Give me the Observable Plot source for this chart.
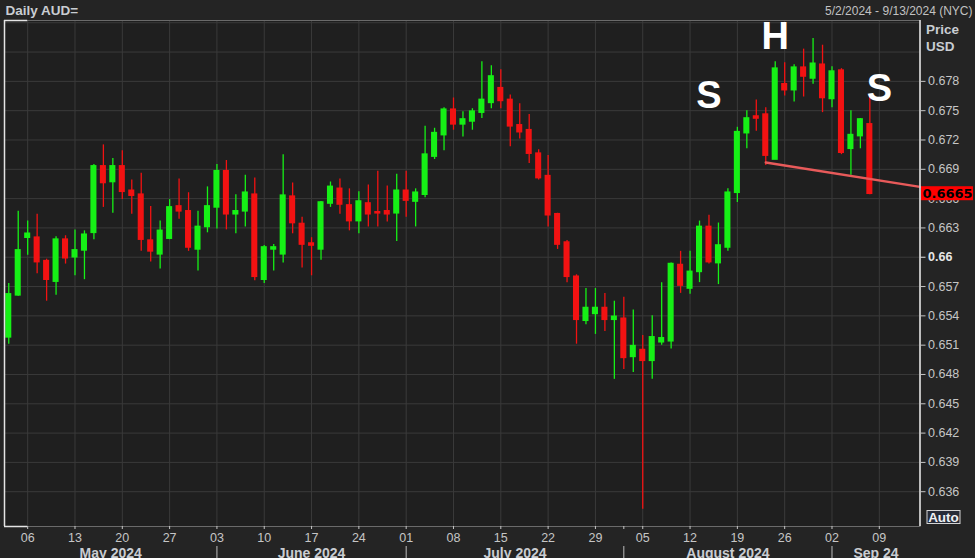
<!DOCTYPE html>
<html>
<head>
<meta charset="utf-8">
<script src="https://cdn.jsdelivr.net/npm/d3@7"></script>
<script src="https://cdn.jsdelivr.net/npm/@observablehq/plot@0.6"></script>
<style>
html, body { margin: 0; padding: 0; background: #242424; }
#chart svg { display: block; }
</style>
</head>
<body>
<div id="chart"></div>
<script>
// ---- Data (AUD/USD daily candles) ----
const dates = [
  "05-02","05-03","05-06","05-07","05-08","05-09","05-10","05-13","05-14","05-15","05-16","05-17",
  "05-20","05-21","05-22","05-23","05-24","05-27","05-28","05-29","05-30","05-31",
  "06-03","06-04","06-05","06-06","06-07","06-10","06-11","06-12","06-13","06-14",
  "06-17","06-18","06-19","06-20","06-21","06-24","06-25","06-26","06-27","06-28",
  "07-01","07-02","07-03","07-04","07-05","07-08","07-09","07-10","07-11","07-12",
  "07-15","07-16","07-17","07-18","07-19","07-22","07-23","07-24","07-25","07-26",
  "07-29","07-30","07-31","08-01","08-02","08-05","08-06","08-07","08-08","08-09",
  "08-12","08-13","08-14","08-15","08-16","08-19","08-20","08-21","08-22","08-23",
  "08-26","08-27","08-28","08-29","08-30","09-02","09-03","09-04","09-05","09-06"
];
const open = [
  0.6518,0.6561,0.6620,0.6620,0.6596,0.6575,0.6618,0.6600,0.6607,0.6625,0.6693,0.6677,
  0.6693,0.6668,0.6664,0.6617,0.6603,0.6619,0.6652,0.6647,0.6608,0.6631,
  0.6651,0.6688,0.6644,0.6647,0.6664,0.6577,0.6608,0.6603,0.6662,0.6634,
  0.6614,0.6608,0.6655,0.6670,0.6653,0.6637,0.6655,0.6646,0.6647,0.6645,
  0.6668,0.6657,0.6664,0.6703,0.6725,0.6751,0.6736,0.6739,0.6748,0.6758,
  0.6773,0.6761,0.6735,0.6730,0.6706,0.6683,0.6644,0.6615,0.6580,0.6535,
  0.6542,0.6548,0.6536,0.6537,0.6498,0.6505,0.6494,0.6513,0.6514,0.6592,
  0.6568,0.6585,0.6631,0.6594,0.6610,0.6666,0.6727,0.6744,0.6746,0.6700,
  0.6777,0.6771,0.6794,0.6783,0.6797,0.6762,0.6791,0.6711,0.6724,0.6736
];
const high = [
  0.6573,0.6647,0.6637,0.6644,0.6598,0.6621,0.6622,0.6628,0.6627,0.6695,0.6715,0.6701,
  0.6709,0.6679,0.6686,0.6652,0.6637,0.6659,0.6680,0.6666,0.6647,0.6672,
  0.6695,0.6699,0.6664,0.6684,0.6681,0.6612,0.6613,0.6705,0.6676,0.6641,
  0.6620,0.6657,0.6677,0.6680,0.6670,0.6667,0.6674,0.6688,0.6673,0.6685,
  0.6688,0.6670,0.6734,0.6732,0.6753,0.6763,0.6749,0.6752,0.6800,0.6796,
  0.6792,0.6766,0.6757,0.6746,0.6710,0.6704,0.6645,0.6617,0.6582,0.6568,
  0.6568,0.6563,0.6555,0.6559,0.6546,0.6520,0.6540,0.6574,0.6594,0.6606,
  0.6606,0.6637,0.6643,0.6635,0.6670,0.6733,0.6750,0.6761,0.6753,0.6800,
  0.6799,0.6797,0.6813,0.6824,0.6817,0.6795,0.6793,0.6750,0.6742,0.6766
];
const low = [
  0.6511,0.6560,0.6602,0.6583,0.6555,0.6561,0.6593,0.6581,0.6577,0.6618,0.6651,0.6645,
  0.6659,0.6644,0.6606,0.6595,0.6588,0.6618,0.6639,0.6606,0.6586,0.6625,
  0.6629,0.6628,0.6624,0.6631,0.6576,0.6573,0.6586,0.6594,0.6624,0.6589,
  0.6581,0.6597,0.6651,0.6644,0.6627,0.6624,0.6631,0.6631,0.6636,0.6616,
  0.6641,0.6631,0.6661,0.6700,0.6709,0.6730,0.6723,0.6730,0.6742,0.6752,
  0.6752,0.6713,0.6721,0.6696,0.6679,0.6631,0.6608,0.6574,0.6511,0.6531,
  0.6521,0.6524,0.6475,0.6485,0.6482,0.6342,0.6475,0.6510,0.6506,0.6563,
  0.6562,0.6574,0.6593,0.6572,0.6606,0.6656,0.6711,0.6729,0.6694,0.6700,
  0.6765,0.6759,0.6764,0.6777,0.6748,0.6753,0.6705,0.6684,0.6711,0.6664
];
const close = [
  0.6562,0.6607,0.6624,0.6595,0.6577,0.6618,0.6599,0.6607,0.6623,0.6693,0.6676,0.6693,
  0.6667,0.6663,0.6618,0.6606,0.6627,0.6651,0.6647,0.6610,0.6631,0.6652,
  0.6688,0.6644,0.6647,0.6666,0.6580,0.6610,0.6610,0.6663,0.6635,0.6613,
  0.6612,0.6656,0.6672,0.6654,0.6637,0.6657,0.6644,0.6645,0.6644,0.6668,
  0.6658,0.6666,0.6705,0.6727,0.6751,0.6736,0.6741,0.6749,0.6761,0.6785,
  0.6760,0.6734,0.6728,0.6706,0.6681,0.6643,0.6613,0.6580,0.6536,0.6548,
  0.6548,0.6536,0.6539,0.6497,0.6509,0.6494,0.6518,0.6517,0.6593,0.6571,
  0.6585,0.6631,0.6595,0.6612,0.6666,0.6728,0.6742,0.6742,0.6704,0.6793,
  0.6771,0.6794,0.6785,0.6798,0.6763,0.6790,0.6707,0.6725,0.6741,0.6665
];
// empty trading days at the right end of the axis (to 9/13)
const extraDates = ["09-09","09-10","09-11","09-12","09-13"];
const mondayTicks = ["05-06","05-13","05-20","05-27","06-03","06-10","06-17","06-24","07-01","07-08",
  "07-15","07-22","07-29","08-05","08-12","08-19","08-26","09-02","09-09"];
const monthLabels = ["May 2024","June 2024","July 2024","August 2024","Sep 24"];
const monthStarts = ["05-02","06-03","07-01","08-01","09-02"];
const yTicks = [0.636,0.639,0.642,0.645,0.648,0.651,0.654,0.657,0.66,0.663,0.666,0.669,0.672,0.675,0.678,0.681,0.684];
const yLabelTicks = [0.636,0.639,0.642,0.645,0.648,0.651,0.654,0.657,0.663,0.666,0.669,0.672,0.675,0.678];
const yBoldTicks = [0.66];
const annLabels = ["S","H","S"];
const annDates = ["08-14","08-23","09-09"];
const annPrices = [0.6753,0.6813,0.6760];
const necklinePrices = [0.6697, 0.6672]; // from the 08-22 low to the right edge
const necklineStart = "08-22";

// ---- Derived tables ----
const allDates = dates.concat(extraDates);
const idx = new Map(allDates.map((d, i) => [d, i]));
const xDomain = [-0.45, allDates.length - 0.7];
const yDomain = [0.63244, 0.68423];
const candles = dates.map((d, i) => ({i, o: open[i], h: high[i], l: low[i], c: close[i]}));
const GREEN = "#16f016", RED = "#f21212";
const col = d => d.c >= d.o ? GREEN : RED;
const mondayIdx = mondayTicks.map(d => idx.get(d));
const startIdx = monthStarts.map(d => idx.get(d));
const monthMid = startIdx.map((s, k) => {
  const a = k === 0 ? xDomain[0] : s;
  const b = k === startIdx.length - 1 ? xDomain[1] : startIdx[k + 1];
  return (a + b) / 2;
});
const monthLabelOf = new Map(monthMid.map((m, k) => [m, monthLabels[k]]));
const extraMonthTicks = startIdx.slice(1).filter(i => !mondayIdx.includes(i));
const neckline = [
  {x: idx.get(necklineStart), y: necklinePrices[0]},
  {x: xDomain[1], y: necklinePrices[1]}
];
const annotations = annLabels.map((t, k) => ({t, x: idx.get(annDates[k]), y: annPrices[k]}));
const fmt = d3.format(".3~f");
const FONT = "Liberation Sans, Arial, sans-serif";
const AX = "#c6c6c6";

const chart = Plot.plot({
  width: 975,
  height: 558,
  marginLeft: 4,
  marginRight: 55.5,
  marginTop: 20,
  marginBottom: 32,
  style: {background: "#242424", color: AX, fontFamily: FONT},
  x: {type: "linear", domain: xDomain, label: null},
  y: {type: "linear", domain: yDomain, label: null},
  color: {type: "identity"},
  marks: [
    Plot.frame({fill: "#1f1f1f", stroke: "none"}),
    Plot.gridY(yTicks, {stroke: "#3a3a3a", strokeOpacity: 1}),
    Plot.gridX(mondayIdx, {stroke: "#3a3a3a", strokeOpacity: 1}),
    // wicks
    Plot.ruleX(candles, {x: "i", y1: "l", y2: "h", stroke: col, strokeWidth: 1.3}),
    // bodies
    Plot.rect(candles, {
      x1: d => d.i - 0.32, x2: d => d.i + 0.32,
      y1: d => Math.min(d.o, d.c), y2: d => Math.max(d.o, d.c),
      fill: col, insetTop: -0.8, insetBottom: -0.8
    }),
    // neckline
    Plot.line(neckline, {x: "x", y: "y", stroke: "#e85a5a", strokeWidth: 2.5}),
    // S H S annotations
    Plot.text(annotations, {x: "x", y: "y", text: "t", fill: "#ffffff", fontSize: 38, fontWeight: "bold",
      lineAnchor: "bottom", textAnchor: "middle", fontFamily: FONT}),
    // frame
    Plot.frame({stroke: "#6a6a6a"}),
    Plot.ruleX(xDomain, {stroke: "#e4e4e4", strokeWidth: 1.5}),
    Plot.ruleY(yDomain, {x1: xDomain[0], x2: mondayIdx[0], stroke: "#e4e4e4", strokeWidth: 1.5}),
    // y axis
    Plot.axisY(yLabelTicks, {anchor: "right", tickSize: 5, tickPadding: 3, tickFormat: fmt, fontSize: 12.5,
      color: AX, label: null}),
    Plot.axisY(yBoldTicks, {anchor: "right", tickSize: 5, tickPadding: 3, tickFormat: fmt, fontSize: 12.5,
      fontWeight: "bold", color: "#e6e6e6", label: null}),
    // x axis: weekly ticks
    Plot.axisX(mondayIdx, {anchor: "bottom", tickSize: 3, tickPadding: 4, fontSize: 12.5,
      tickFormat: i => allDates[i].slice(3), color: AX, label: null}),
    Plot.axisX(extraMonthTicks, {anchor: "bottom", tickSize: 3, tickFormat: () => "", color: AX, label: null}),
    // month separators
    Plot.axisX(startIdx.slice(1), {anchor: "bottom", tickSize: 12, dy: 20, tickFormat: () => "", color: "#bdbdbd", label: null}),
    // month labels
    Plot.axisX(monthMid, {anchor: "bottom", tickSize: 0, tickPadding: 22, fontSize: 14, fontWeight: "bold",
      tickFormat: m => monthLabelOf.get(m), color: "#c9ccd1", label: null}),
    // header texts
    Plot.text(["Daily AUD="], {frameAnchor: "top-left", dx: 1, dy: -6, lineAnchor: "bottom", textAnchor: "start",
      fontWeight: "bold", fontSize: 13.5, fill: "#c9cdd2"}),
    Plot.text(["5/2/2024 - 9/13/2024 (NYC)"], {frameAnchor: "top-right", dx: 52.5, dy: -6, lineAnchor: "bottom",
      textAnchor: "end", fontSize: 12, fill: "#c2c2c2"}),
    Plot.text(["Price"], {frameAnchor: "top-right", dx: 6, dy: 13, lineAnchor: "bottom", textAnchor: "start",
      fontWeight: "bold", fontSize: 13.5, fill: "#c9cdd2"}),
    Plot.text(["USD"], {frameAnchor: "top-right", dx: 6, dy: 30, lineAnchor: "bottom", textAnchor: "start",
      fontWeight: "bold", fontSize: 13.5, fill: "#c9cdd2"})
  ]
});
document.getElementById("chart").append(chart);

// last price tag and "Auto" button, positioned through the chart's scales
const svg = d3.select(chart);
const xs = chart.scale("x"), ys = chart.scale("y");
const lastClose = close[close.length - 1];
const yTag = ys.apply(lastClose);
const xRight = xs.apply(xDomain[1]);
const tag = svg.append("g");
tag.append("rect").attr("x", xRight + 1.5).attr("y", yTag - 7).attr("width", 52).attr("height", 14).attr("fill", "#ff0000");
tag.append("text").attr("x", xRight + 3).attr("y", yTag + 4.8).attr("text-anchor", "start")
  .attr("font-family", "DejaVu Sans, Verdana, sans-serif").attr("font-weight", "bold").attr("font-size", 13)
  .attr("fill", "#000").text(d3.format(".4f")(lastClose));
const yBottom = ys.apply(yDomain[0]);
const auto = svg.append("g");
auto.append("rect").attr("x", xRight + 7.5).attr("y", yBottom - 15.5).attr("width", 33).attr("height", 13)
  .attr("fill", "#262b38").attr("stroke", "#d4d4d4").attr("stroke-width", 1);
auto.append("text").attr("x", xRight + 24).attr("y", yBottom - 4.5).attr("text-anchor", "middle")
  .attr("font-family", FONT).attr("font-weight", "bold").attr("font-size", 13.5).attr("fill", "#eef0f4").text("Auto");
</script>
</body>
</html>
